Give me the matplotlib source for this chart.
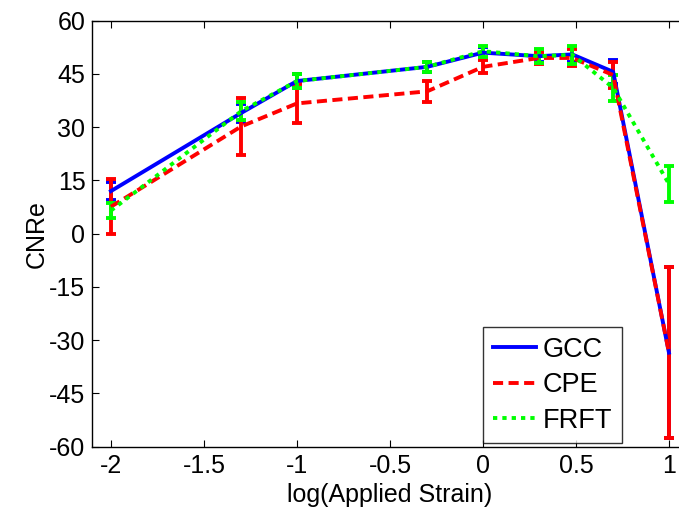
import numpy as np
import matplotlib
matplotlib.use("Agg")
import matplotlib.pyplot as plt
from matplotlib.lines import Line2D

# log(applied strain) positions
strain = [-2, -1.3, -1, -0.3, 0, 0.3, 0.48, 0.7, 1]

gcc = [12, 34, 43, 47, 51, 50, 50.5, 45.6, -33.5]
gcc_err = [2.6, 2.5, 2, 1.5, 1.5, 1.5, 2, 3.3, 24]

cpe = [7.6, 30.2, 36.7, 40.1, 47, 49.5, 49.5, 44.7, -33.5]
cpe_err = [7.8, 8, 5.6, 3, 1.8, 1.8, 2.4, 3.8, 24]

frft = [6.5, 34.5, 43, 47, 51.4, 50, 50.4, 41.1, 14]
frft_err = [2.2, 2.5, 2, 1.5, 1.5, 2, 2.6, 3.6, 5]

plt.rcParams["font.family"] = ["Liberation Sans", "DejaVu Sans"]
plt.rcParams["axes.unicode_minus"] = False

fig = plt.figure(figsize=(6.79, 5.16), dpi=100)
ax = fig.add_axes([0.136, 0.1343, 0.8766, 0.8256])

series = [
    ("GCC", gcc, gcc_err, "#0000ff", "-"),
    ("CPE", cpe, cpe_err, "#ff0000", (0, (2.6, 1.4))),
    ("FRFT", frft, frft_err, "#00ff00", (0, (1.1, 1.3))),
]
handles = []
for name, vals, err, color, ls in series:
    ax.errorbar(
        strain, vals, yerr=err,
        color=color, linestyle=ls, linewidth=2.8,
        elinewidth=2.8, capsize=3.8, capthick=2.8,
    )
    handles.append(Line2D([], [], color=color, linestyle=ls,
                          linewidth=2.8, label=name))

ax.set_xlim(-2.1, 1.1)
ax.set_ylim(-60, 60)
ax.set_xticks([-2, -1.5, -1, -0.5, 0, 0.5, 1])
ax.set_xticklabels(["-2", "-1.5", "-1", "-0.5", "0", "0.5", "1"])
ax.set_yticks(np.arange(-60, 61, 15))
ax.tick_params(direction="in", length=5, width=0.8, labelsize=18,
               top=True, right=True, pad=5)
for sp in ax.spines.values():
    sp.set_linewidth(1.0)

ax.set_xlabel("log(Applied Strain)", fontsize=18, labelpad=4)
ax.set_ylabel("CNRe", fontsize=18, labelpad=0)

leg = ax.legend(
    handles=handles,
    loc="lower right",
    bbox_to_anchor=(622 / 679, (516 - 443) / 516),
    bbox_transform=fig.transFigure,
    fontsize=19.5, frameon=True, fancybox=False,
    edgecolor="black", handlelength=1.6, borderpad=0.35,
    labelspacing=0.35, handletextpad=0.25, borderaxespad=0,
)
leg.get_frame().set_linewidth(1.0)

fig.savefig("out.png", dpi=100)
